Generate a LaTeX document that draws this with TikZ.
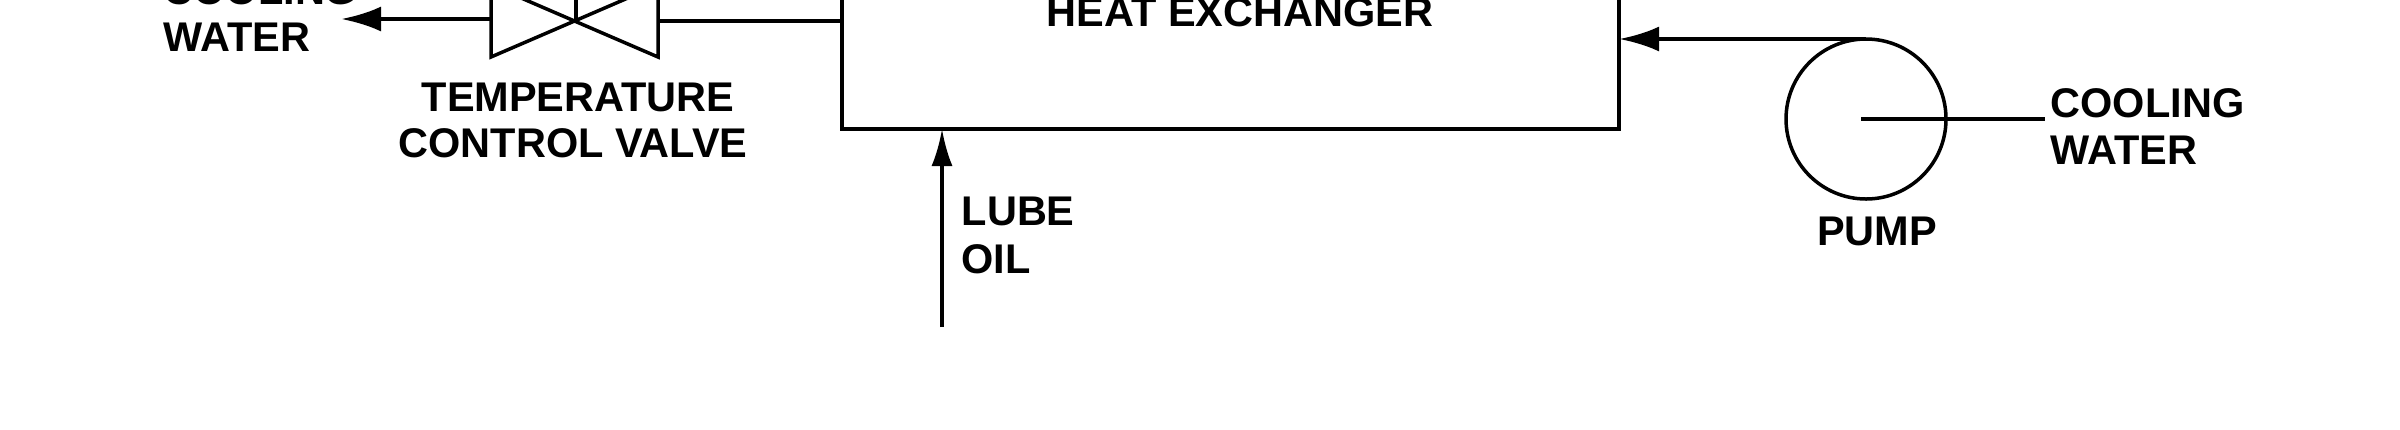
\documentclass[tikz,border=0pt]{standalone}
\usepackage{fontspec}
\setmainfont{Liberation Sans}
\usetikzlibrary{arrows.meta,positioning,calc}
\begin{document}
\begin{tikzpicture}[
  unit/.style={draw, line width=0.045cm, minimum width=7.77cm, minimum height=1.6cm, outer sep=0pt, inner sep=0pt},
  pumpcircle/.style={draw, circle, line width=0.035cm, minimum size=1.6cm, outer sep=0pt, inner sep=0pt},
  pipe/.style={line width=0.045cm},
  flow/.style={-{Latex[length=0.40cm,width=0.25cm]}, line width=0.045cm},
  lab/.style={font=\bfseries\fontsize{11.8}{13.4}\selectfont, inner sep=0pt, align=left},
  labc/.style={lab, align=center}
]
\useasboundingbox (0,0) rectangle (24,4.29);
\clip (0,0) rectangle (24,4.29);
\node[unit] (hx) at (12.305,3.8) {};
\node[lab,anchor=base] (hxlab) at (12.40,4.03) {HEAT EXCHANGER};
\node[pumpcircle] (pump) at (18.66,3.10) {};
\node[lab,anchor=base] (pumplab) at (18.77,1.84) {PUMP};
\coordinate (cross) at (5.76,4.08);
\coordinate (valvel) at (4.91,4.10);
\coordinate (valver) at (6.58,4.08);
\coordinate (wateroutend) at (3.41,4.10);
\coordinate (lubestart) at (9.42,1.02);
\coordinate (pumpin) at (18.61,3.10);
\coordinate (pumpinend) at (20.45,3.10);
\draw[line width=0.035cm] (4.91,3.72) -- (6.58,4.44) -- (6.58,3.72) -- (4.91,4.44) -- cycle;
\draw[line width=0.035cm] (cross) -- (5.76,4.44);
\draw[pipe] (valver) -- (valver -| hx.west);
\draw[flow] (valvel) -- (wateroutend);
\draw[flow] (pump.north) -- (pump.north -| hx.east);
\draw[pipe] (pumpin) -- (pumpinend);
\draw[flow,line width=0.035cm,-{Latex[length=0.37cm,width=0.21cm]}] (lubestart) -- (lubestart |- hx.south);
\node[lab,anchor=base west] (coolout1) at (1.63,4.25) {COOLING};
\node[lab,anchor=base west] (coolout2) at (1.63,3.78) {WATER};
\node[labc,anchor=base] (valvelab1) at (5.78,3.18) {TEMPERATURE};
\node[labc,anchor=base] (valvelab2) at (5.73,2.72) {CONTROL VALVE};
\node[lab,anchor=base west] (lube1) at (9.61,2.04) {LUBE};
\node[lab,anchor=base west] (lube2) at (9.61,1.56) {OIL};
\node[lab,anchor=base west] (coolin1) at (20.50,3.12) {COOLING};
\node[lab,anchor=base west] (coolin2) at (20.50,2.65) {WATER};
\end{tikzpicture}
\end{document}
